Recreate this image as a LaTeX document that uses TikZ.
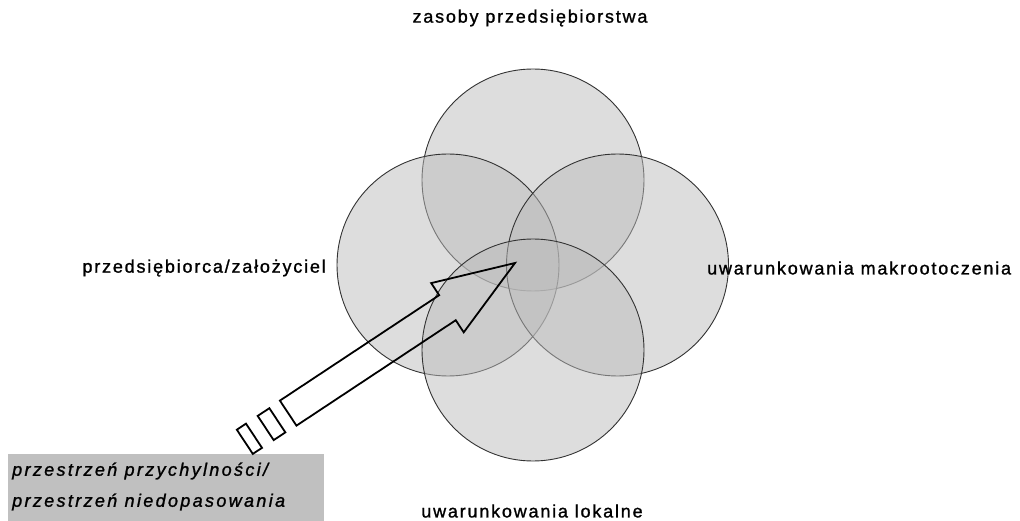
\documentclass[tikz,border=0pt]{standalone}
\usepackage{fontspec}
\setmainfont{Liberation Sans}
\newfontfamily\labfont[LetterSpace=10, FakeBold=1.2]{Liberation Sans}
\newfontfamily\legfont[LetterSpace=13, FakeBold=1.2]{Liberation Sans}
\definecolor{circfill}{RGB}{187,187,187}
\definecolor{circline}{RGB}{50,50,50}
\definecolor{boxfill}{RGB}{192,192,192}
\tikzset{
  ring/.style={circle, minimum size=222pt, inner sep=0pt, fill=circfill, fill opacity=0.5, draw=circline, draw opacity=1, line width=0.9pt},
  lab/.style={font=\labfont\fontsize{18}{20}\selectfont, inner sep=0pt, text=black},
  legtext/.style={anchor=west, inner sep=0pt, font=\legfont\itshape\fontsize{18}{20}\selectfont, text=black},
  blockarrow/.style={draw=black, line width=1.8pt, line join=miter},
  legend/.style={fill=boxfill, draw=none, minimum width=316pt, minimum height=67pt, inner sep=0pt}
}
\begin{document}
\begin{tikzpicture}[x=1pt,y=-1pt]
\useasboundingbox (0,0) rectangle (1020,521);
\node[ring] (ctop) at (533,180) {};
\node[ring] (cleft) at (448,265) {};
\node[ring] (cright) at (617.5,265) {};
\node[ring] (cbot) at (533,350) {};

\node[lab] (ltop) at (530,18) {zasoby przedsiębiorstwa};
\node[lab, anchor=east] (lleft) at (326,268) {przedsiębiorca/założyciel};
\node[lab, anchor=west] (lright) at (707,268) {uwarunkowania makrootoczenia};
\node[lab] (lbot) at (532,511) {uwarunkowania lokalne};

\node[legend, anchor=north west] (box) at (8,454) {};
\node[legtext] (t1) at (12,471) {przestrzeń przychylności/};
\node[legtext] (t2) at (12,502) {przestrzeń niedopasowania};

\begin{scope}[shift={(515,263)}, rotate=33.5]
\draw[blockarrow] (0,0) -- (-81,-29.5) -- (-81,-15) -- (-272,-15) -- (-272,15) -- (-81,15) -- (-81,29.5) -- cycle;
\draw[blockarrow] (-299,-14.5) rectangle (-285,14.5);
\draw[blockarrow] (-324,-14.5) rectangle (-313,14.5);
\end{scope}
\end{tikzpicture}
\end{document}
